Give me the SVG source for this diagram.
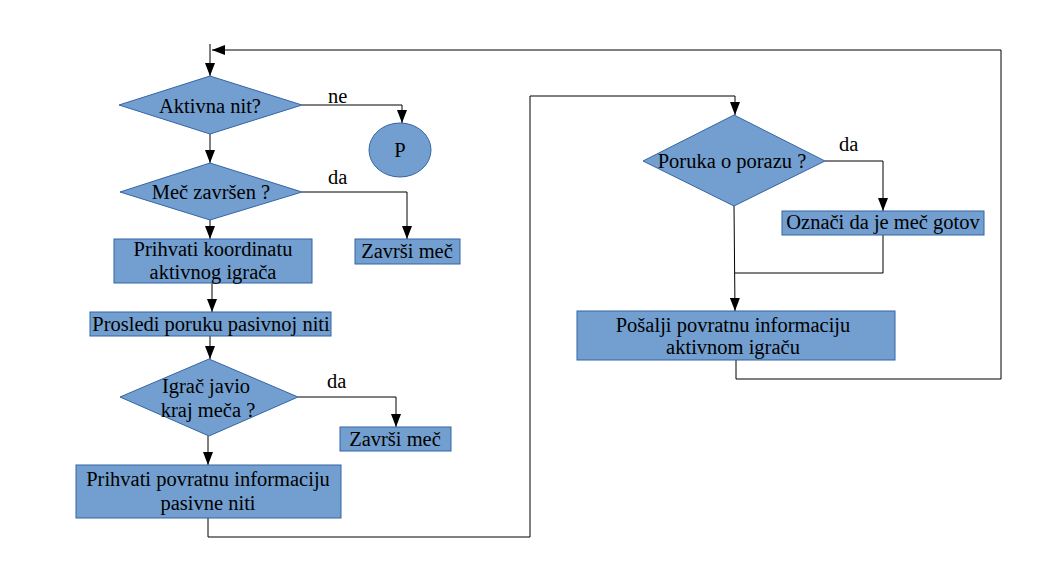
<svg xmlns="http://www.w3.org/2000/svg" width="1056" height="576" viewBox="0 0 1056 576">
<style>
.s{fill:#729fcf;stroke:#3465a4;stroke-width:1}
.t{font-family:"Liberation Serif","Times New Roman",serif;font-size:20.5px;fill:#000;text-anchor:middle}
.l{font-family:"Liberation Serif","Times New Roman",serif;font-size:20.5px;fill:#000}
.c{fill:none;stroke:#000;stroke-width:1}
</style>
<defs>
<marker id="a" markerUnits="userSpaceOnUse" markerWidth="13" markerHeight="10" refX="13" refY="5" orient="auto" viewBox="0 0 13 10">
<path d="M0,0 L13,5 L0,10 z" fill="#000"/>
</marker>
</defs>
<rect width="1056" height="576" fill="#fff"/>
<g id="connectors">
<path class="c" d="M210,44 V76" marker-end="url(#a)"/>
<path class="c" d="M736,360 V379 H1001 V50 H212" marker-end="url(#a)"/>
<path class="c" d="M302,105 H402 V123" marker-end="url(#a)"/>
<path class="c" d="M210,134 V163" marker-end="url(#a)"/>
<path class="c" d="M302,192 H407 V239" marker-end="url(#a)"/>
<path class="c" d="M210,220 V239" marker-end="url(#a)"/>
<path class="c" d="M212,283 V312" marker-end="url(#a)"/>
<path class="c" d="M210,336 V359" marker-end="url(#a)"/>
<path class="c" d="M298,397 H396 V427" marker-end="url(#a)"/>
<path class="c" d="M208,436 V465" marker-end="url(#a)"/>
<path class="c" d="M208,518 V537 H530 V96 H735 V115" marker-end="url(#a)"/>
<path class="c" d="M825,161 H883 V211" marker-end="url(#a)"/>
<path class="c" d="M883,235 V273 H735"/>
<path class="c" d="M734,206 L735,311" marker-end="url(#a)"/>
<text class="l" x="328" y="103">ne</text>
<text class="l" x="328" y="184">da</text>
<text class="l" x="327" y="388">da</text>
<text class="l" x="839" y="151">da</text>
</g>
<g id="n1"><polygon class="s" points="119,105 210,76 302,105 210,134"/><text class="t" x="210" y="113">Aktivna nit?</text></g>
<g id="nP"><ellipse class="s" cx="400" cy="150" rx="31" ry="27"/><text class="t" x="400" y="157">P</text></g>
<g id="n2"><polygon class="s" points="120,192 210,163 302,192 210,220"/><text class="t" x="211" y="199">Meč završen ?</text></g>
<g id="n3"><rect class="s" x="355" y="239" width="105" height="25"/><text class="t" x="407" y="258">Završi meč</text></g>
<g id="n4"><rect class="s" x="114" y="239" width="198" height="44"/><text class="t" x="213" y="256">Prihvati koordinatu</text><text class="t" x="213" y="279">aktivnog igrača</text></g>
<g id="n5"><rect class="s" x="90" y="312" width="241" height="24"/><text class="t" x="211" y="331">Prosledi poruku pasivnoj niti</text></g>
<g id="n6"><polygon class="s" points="120,397 209,359 298,397 209,436"/><text class="t" x="206" y="393">Igrač javio</text><text class="t" x="208" y="417">kraj meča ?</text></g>
<g id="n7"><rect class="s" x="340" y="427" width="111" height="24"/><text class="t" x="395" y="446">Završi meč</text></g>
<g id="n8"><rect class="s" x="76" y="465" width="265" height="53"/><text class="t" x="208" y="486">Prihvati povratnu informaciju</text><text class="t" x="208" y="510">pasivne niti</text></g>
<g id="n9"><polygon class="s" points="643,161 734,115 825,161 734,206"/><text class="t" x="732" y="168">Poruka o porazu ?</text></g>
<g id="n10"><rect class="s" x="782" y="211" width="202" height="24"/><text class="t" x="883" y="229">Označi da je meč gotov</text></g>
<g id="n11"><rect class="s" x="577" y="311" width="318" height="49"/><text class="t" x="733" y="332">Pošalji povratnu informaciju</text><text class="t" x="733" y="354">aktivnom igraču</text></g>
</svg>
